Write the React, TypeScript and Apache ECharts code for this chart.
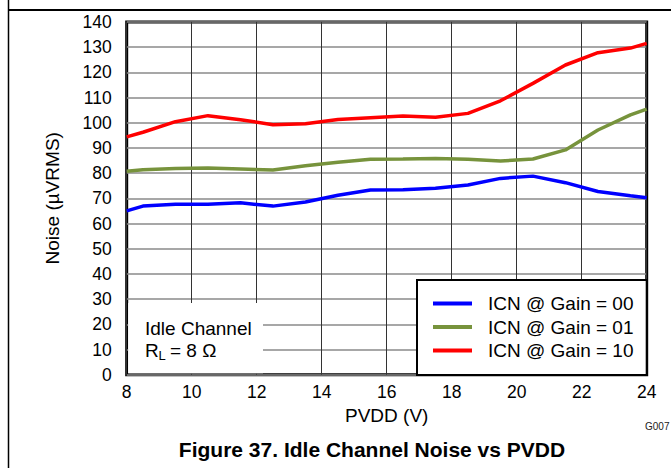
import React, { useEffect, useRef } from "react";
import * as echarts from "echarts";

const pvdd = [8, 8.5, 9.5, 10.5, 11.5, 12.5, 13.5, 14.5, 15.5, 16.5, 17.5, 18.5, 19.5, 20.5, 21.5, 22.5, 23.5, 24];
const gain00 = [65.0, 66.9, 67.6, 67.6, 68.2, 66.9, 68.5, 71.2, 73.3, 73.4, 74.0, 75.3, 77.9, 78.8, 76.2, 72.7, 71.0, 70.2];
const gain01 = [80.7, 81.3, 81.8, 82.0, 81.6, 81.2, 82.9, 84.3, 85.5, 85.6, 85.8, 85.5, 84.8, 85.6, 89.2, 97.1, 103.1, 105.4];
const gain10 = [94.4, 96.2, 100.4, 102.8, 101.2, 99.2, 99.6, 101.3, 102.0, 102.7, 102.2, 103.7, 108.7, 115.6, 122.9, 127.8, 129.6, 131.5];
const seriesNames = ["ICN @ Gain = 00", "ICN @ Gain = 01", "ICN @ Gain = 10"];
const seriesColors = ["#0000ff", "#77933c", "#ff0000"];

const FONT = "'Liberation Sans', Arial, sans-serif";

export default function App() {
  const ref = useRef<HTMLDivElement>(null);
  useEffect(() => {
    if (!ref.current) return;
    const chart = echarts.init(ref.current, null, { renderer: "svg" });
    const datasets = [gain00, gain01, gain10];
    chart.setOption({
      animation: false,
      backgroundColor: "#ffffff",
      textStyle: { fontFamily: FONT },
      grid: {
        left: 126.7,
        right: 24.3,
        top: 21.9,
        bottom: 93.3,
        show: true,
        borderColor: "#000",
        borderWidth: 3,
        backgroundColor: "transparent",
      },
      xAxis: {
        type: "value",
        min: 8,
        max: 24,
        interval: 2,
        name: "PVDD (V)",
        nameLocation: "middle",
        nameGap: 29,
        nameTextStyle: { fontSize: 19, color: "#000", fontFamily: FONT },
        axisLine: { show: false },
        axisTick: { show: false },
        axisLabel: { fontSize: 17.5, color: "#000", margin: 8, fontFamily: FONT },
        splitLine: { show: true, lineStyle: { color: "#333", width: 1 } },
      },
      yAxis: {
        type: "value",
        min: 0,
        max: 140,
        interval: 10,
        name: "Noise (µVRMS)",
        nameLocation: "middle",
        nameGap: 65,
        nameRotate: 90,
        nameTextStyle: { fontSize: 19, color: "#000", fontFamily: FONT },
        axisLine: { show: false },
        axisTick: { show: false },
        axisLabel: { fontSize: 17.5, color: "#000", margin: 15, fontFamily: FONT },
        splitLine: { show: true, lineStyle: { color: "#8a8a8a", width: 1.5 } },
      },
      legend: {
        orient: "vertical",
        left: 433,
        top: 294,
        padding: 0,
        icon: "rect",
        itemWidth: 39,
        itemHeight: 4,
        itemGap: 4.5,
        z: 20,
        data: seriesNames,
        textStyle: { fontSize: 19, color: "#000", fontFamily: FONT, padding: [0, 0, 0, 11] },
      },
      series: datasets.map((d, i) => ({
        name: seriesNames[i],
        type: "line",
        symbol: "none",
        showSymbol: false,
        z: 3,
        color: seriesColors[i],
        itemStyle: { color: seriesColors[i] },
        lineStyle: { color: seriesColors[i], width: 3.5 },
        data: pvdd.map((x, j) => [x, d[j]]),
      })),
      graphic: [
        { type: "line", z: 1, shape: { x1: 8.5, y1: 0, x2: 8.5, y2: 468 }, style: { stroke: "#000", lineWidth: 1.5 } },
        { type: "line", z: 1, shape: { x1: 8, y1: 10, x2: 671, y2: 10 }, style: { stroke: "#000", lineWidth: 2 } },
        { type: "rect", z: 6, shape: { x: 128.2, y: 303, width: 134.8, height: 70.2 }, style: { fill: "#fff" } },
        { type: "text", z: 7, x: 145, y: 328, style: { text: "Idle Channel", font: `19px ${FONT}`, fill: "#000", verticalAlign: "middle" } },
        { type: "text", z: 7, x: 145, y: 350, style: { text: "R", font: `19px ${FONT}`, fill: "#000", verticalAlign: "middle" } },
        { type: "text", z: 7, x: 158.5, y: 355, style: { text: "L", font: `13px ${FONT}`, fill: "#000", verticalAlign: "middle" } },
        { type: "text", z: 7, x: 170, y: 350, style: { text: "= 8 Ω", font: `19px ${FONT}`, fill: "#000", verticalAlign: "middle" } },
        { type: "rect", z: 8, shape: { x: 417, y: 280, width: 229.7, height: 95 }, style: { fill: "#fff", stroke: "#000", lineWidth: 2 } },
        { type: "text", z: 7, x: 645, y: 426, style: { text: "G007", font: `10px ${FONT}`, fill: "#222", verticalAlign: "middle" } },
        { type: "text", z: 7, x: 372, y: 449, style: { text: "Figure 37. Idle Channel Noise vs PVDD", font: `bold 21px ${FONT}`, fill: "#000", align: "center", verticalAlign: "middle" } },
      ],
    });
    return () => chart.dispose();
  }, []);
  return <div ref={ref} style={{ position: "fixed", left: 0, top: 0, width: 671, height: 468 }} />;
}
